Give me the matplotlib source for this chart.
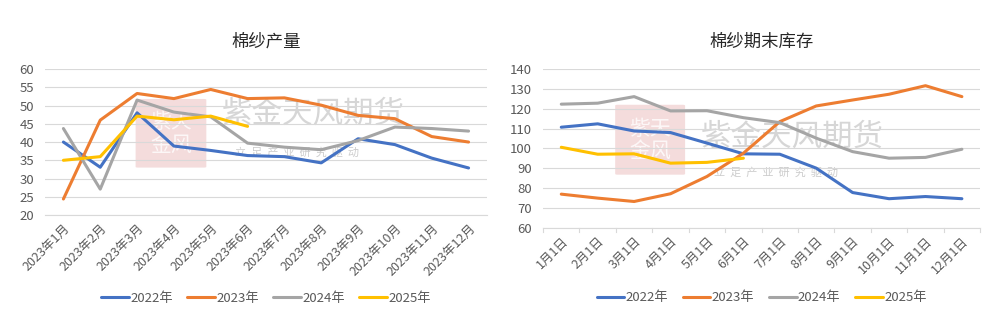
import matplotlib.pyplot as plt
from matplotlib.patches import FancyBboxPatch

plt.rcParams['font.family'] = ['Noto Sans CJK SC', 'DejaVu Sans']

# left chart: 棉纱产量
prod_months = ['2023年1月', '2023年2月', '2023年3月', '2023年4月', '2023年5月', '2023年6月',
               '2023年7月', '2023年8月', '2023年9月', '2023年10月', '2023年11月', '2023年12月']
prod_2022 = [40.0, 33.1, 48.0, 38.9, 37.7, 36.3, 36.0, 34.3, 40.9, 39.3, 35.6, 32.9]
prod_2023 = [24.4, 46.0, 53.3, 51.9, 54.4, 51.9, 52.1, 50.1, 47.3, 46.4, 41.5, 40.0]
prod_2024 = [43.7, 27.1, 51.5, 48.2, 46.9, 39.7, 38.6, 37.9, 40.4, 44.1, 43.7, 43.0]
prod_2025 = [35.0, 36.0, 47.1, 46.1, 47.1, 44.3]

# right chart: 棉纱期末库存
stock_dates = ['1月1日', '2月1日', '3月1日', '4月1日', '5月1日', '6月1日',
               '7月1日', '8月1日', '9月1日', '10月1日', '11月1日', '12月1日']
stock_2022 = [110.7, 112.4, 108.8, 108.0, 102.7, 97.3, 97.1, 90.1, 77.8, 74.7, 75.8, 74.7]
stock_2023 = [77.0, 75.0, 73.3, 77.2, 85.9, 97.6, 113.5, 121.4, 124.4, 127.3, 131.6, 126.1]
stock_2024 = [122.3, 122.8, 126.1, 118.9, 119.0, 115.5, 113.0, 105.2, 98.4, 95.1, 95.5, 99.6]
stock_2025 = [100.6, 97.1, 97.3, 92.6, 93.0, 95.1]

years = ['2022年', '2023年', '2024年', '2025年']
colors = ['#4472C4', '#ED7D31', '#A5A5A5', '#FFC000']
txt = '#595959'

fig = plt.figure(figsize=(9.91, 3.21), dpi=100)
ax1 = fig.add_axes([0.0454, 0.330, 0.446, 0.455])
ax2 = fig.add_axes([0.548, 0.290, 0.441, 0.495])


def watermark(ax, sx, sy, sh, tx, ty, sub_dy):
    seal = FancyBboxPatch((sx, sy), 0.15, sh, boxstyle='round,pad=0.005',
                          transform=ax.transAxes, fc='#e7b3b3', ec='none', alpha=0.45, zorder=0)
    ax.add_patch(seal)
    ax.text(sx + 0.075, sy + sh / 2, '紫天\n金风', transform=ax.transAxes, ha='center', va='center',
            fontsize=15, color='white', alpha=0.8, linespacing=1.0, zorder=0)
    ax.text(tx, ty, '紫金天风期货', transform=ax.transAxes, ha='left', va='center',
            fontsize=22, color='#9a9a9a', alpha=0.4, zorder=0)
    ax.text(tx + 0.03, ty - sub_dy, '立  足  产  业  研  究  驱  动', transform=ax.transAxes,
            ha='left', va='center', fontsize=8, color='#9a9a9a', alpha=0.5, zorder=0)


def style(ax, labels, ylim, yticks, ticks_out):
    ax.set_xlim(-0.5, len(labels) - 0.5)
    ax.set_ylim(*ylim)
    ax.set_yticks(yticks)
    ax.set_xticks(range(len(labels)))
    ax.set_xticklabels(labels, rotation=45, ha='right', rotation_mode='anchor',
                       fontsize=9, color=txt)
    ax.tick_params(axis='y', length=0, labelsize=9.5, labelcolor=txt, pad=8)
    ax.tick_params(axis='x', length=0, pad=5)
    ax.grid(axis='y', color='#d9d9d9', linewidth=0.8)
    ax.set_axisbelow(True)
    for s in ['top', 'right', 'left']:
        ax.spines[s].set_visible(False)
    ax.spines['bottom'].set_color('#d9d9d9')
    if ticks_out:
        for b in range(len(labels) + 1):
            ax.plot([b - 0.5, b - 0.5], [ylim[0], ylim[0] - (ylim[1] - ylim[0]) * 0.025],
                    color='#d9d9d9', lw=0.8, clip_on=False)


style(ax1, prod_months, (20, 60), range(20, 61, 5), False)
style(ax2, stock_dates, (60, 140), range(60, 141, 10), True)

watermark(ax1, 0.21, 0.33, 0.46, 0.40, 0.69, 0.26)
watermark(ax2, 0.17, 0.34, 0.43, 0.36, 0.57, 0.22)

for ax, series in [(ax1, [prod_2022, prod_2023, prod_2024, prod_2025]),
                   (ax2, [stock_2022, stock_2023, stock_2024, stock_2025])]:
    for vals, c, name in zip(series, colors, years):
        ax.plot(range(len(vals)), vals, color=c, lw=2.2, label=name, solid_capstyle='round')

ax1.set_title('棉纱产量', fontsize=12.5, color='#262626', pad=16)
ax2.set_title('棉纱期末库存', fontsize=12.5, color='#262626', pad=16)

for ax, y in [(ax1, -0.57), (ax2, -0.44)]:
    leg = ax.legend(loc='center', bbox_to_anchor=(0.5, y), ncol=4, frameon=False,
                    fontsize=9.5, handlelength=2.1, handletextpad=0.1, columnspacing=1.1)
    for t in leg.get_texts():
        t.set_color(txt)

fig.savefig('out.png', dpi=100, facecolor='white')
